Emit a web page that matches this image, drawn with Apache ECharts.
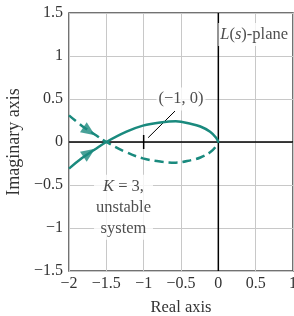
<!DOCTYPE html>
<html>
<head>
<meta charset="utf-8">
<script src="https://cdn.jsdelivr.net/npm/echarts@6/dist/echarts.min.js"></script>
<style>
html, body { margin: 0; padding: 0; background: #fff; }
#chart { width: 294px; height: 316px; }
</style>
</head>
<body>
<div id="chart"></div>
<script>
// Nyquist plot values
var solidX = [-2, -1.83, -1.66, -1.5, -1.23, -1.01, -0.75, -0.57, -0.36, -0.24, -0.11, -0.03, 0];
var solidY = [-0.31, -0.19, -0.09, 0, 0.12, 0.19, 0.23, 0.24, 0.21, 0.18, 0.12, 0.05, 0];
var dashX = [-2, -1.83, -1.66, -1.5, -1.23, -1.01, -0.75, -0.57, -0.36, -0.24, -0.11, -0.03, 0];
var dashY = [0.31, 0.19, 0.09, 0, -0.12, -0.19, -0.23, -0.24, -0.21, -0.18, -0.12, -0.05, 0];
// arrow heads: [x, y, rotation]
var arrows = [[-1.73, -0.125, -56], [-1.73, 0.125, -124]];
var xTicks = [-2, 1, 0.5];   // min, max, step
var yTicks = [-1.5, 1.5, 0.5];
var notes = [
    { x: 0.48, y: 1.25, text: '{i|L}({i|s})-plane' },
    { x: -0.5, y: 0.5, text: '(\u22121, 0)' },
    { x: -1.27, y: -0.76, text: '{i|K} = 3,\nunstable\nsystem' }
];
var leader = [[-0.94, 0.05], [-0.58, 0.36]];
var minusOneTick = [[-1, -0.08], [-1, 0.08]];

var teal = '#1a8a7e';
var serif = '"Liberation Serif", "DejaVu Serif", serif';

function pairs(xs, ys) {
    return xs.map(function (x, i) { return [x, ys[i]]; });
}
function fmt(v) {
    return String(v).replace('-', '\u2212');
}

var chart = echarts.init(document.getElementById('chart'), null, { renderer: 'canvas' });

var option = {
    animation: false,
    grid: {
        left: 69, right: 1, top: 13, bottom: 45,
        outerBoundsMode: 'none', containLabel: false,
        show: true, borderColor: '#444', borderWidth: 1.5, backgroundColor: 'transparent'
    },
    xAxis: {
        type: 'value', min: xTicks[0], max: xTicks[1], interval: xTicks[2],
        name: 'Real axis', nameLocation: 'middle', nameGap: 28,
        nameTextStyle: { fontFamily: serif, fontSize: 16.5, color: '#333' },
        axisLine: { show: false },
        axisTick: { show: false },
        axisLabel: { formatter: fmt, fontFamily: serif, fontSize: 16, color: '#333', margin: 5 },
        splitLine: { show: true, lineStyle: { color: '#c8c8c8', width: 1 } }
    },
    yAxis: {
        type: 'value', min: yTicks[0], max: yTicks[1], interval: yTicks[2],
        name: 'Imaginary axis', nameLocation: 'middle', nameGap: 45,
        nameTextStyle: { fontFamily: serif, fontSize: 18, color: '#333' },
        axisLine: { show: false },
        axisTick: { show: false },
        axisLabel: { formatter: fmt, fontFamily: serif, fontSize: 16, color: '#333', margin: 6 },
        splitLine: { show: true, lineStyle: { color: '#c8c8c8', width: 1 } }
    },
    series: [
        {
            type: 'line', symbol: 'none', silent: true, z: 1,
            data: [[xTicks[0], 0], [xTicks[1], 0]],
            lineStyle: { color: '#000', width: 1.5 }
        },
        {
            type: 'line', symbol: 'none', silent: true, z: 1,
            data: [[0, yTicks[0]], [0, yTicks[1]]],
            lineStyle: { color: '#000', width: 1.5 }
        },
        {
            type: 'line', symbol: 'none', z: 2,
            data: leader,
            lineStyle: { color: '#000', width: 1 }
        },
        {
            type: 'line', symbol: 'none', z: 2,
            data: minusOneTick,
            lineStyle: { color: '#000', width: 1.5 }
        },
        {
            type: 'line', symbol: 'none', smooth: 0.4, z: 3,
            data: pairs(solidX, solidY),
            lineStyle: { color: teal, width: 2.5 }
        },
        {
            type: 'line', symbol: 'none', smooth: 0.4, z: 3,
            data: pairs(dashX, dashY),
            lineStyle: { color: teal, width: 2.5, type: [9, 5] }
        },
        {
            type: 'scatter', z: 4,
            symbol: 'triangle', symbolSize: [12, 14],
            data: arrows.map(function (a) {
                return { value: [a[0], a[1]], symbolRotate: a[2] };
            }),
            itemStyle: { color: teal }
        },
        {
            type: 'scatter', z: 2, symbolSize: 0,
            data: notes.map(function (n) {
                return {
                    value: [n.x, n.y],
                    label: {
                        show: true, position: 'inside', formatter: n.text,
                        fontFamily: serif, fontSize: 16.5, color: '#222',
                        lineHeight: 21,
                        backgroundColor: '#fff', padding: [1, 2],
                        rich: {
                            i: { fontFamily: serif, fontSize: 16.5, fontStyle: 'italic', color: '#222' }
                        }
                    }
                };
            })
        }
    ]
};

chart.setOption(option);
</script>
</body>
</html>
